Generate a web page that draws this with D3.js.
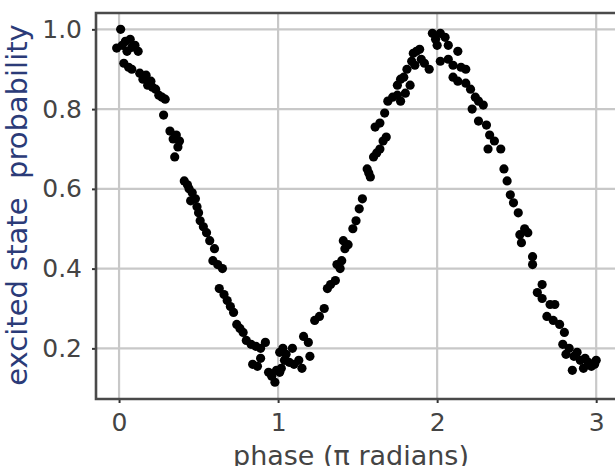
<!DOCTYPE html>
<html>
<head>
<meta charset="utf-8">
<script src="https://cdn.jsdelivr.net/npm/d3@7"></script>
<style>
  html, body { margin: 0; padding: 0; background: #fff; overflow: hidden; }
  svg { display: block; }
</style>
</head>
<body>
<svg id="chart" width="615" height="466"></svg>
<script>
// Measured excited-state probability versus phase (in units of pi)
const phase = [
  -0.015, 0.01, 0.02, 0.04, 0.05, 0.07, 0.08, 0.10, 0.12, 0.03, 0.06, 0.08, 0.13, 0.15, 0.17, 0.18,
  0.20, 0.21, 0.23, 0.25, 0.27, 0.29, 0.28, 0.32, 0.34, 0.36, 0.38, 0.37, 0.35, 0.41, 0.43, 0.44,
  0.46, 0.45, 0.48, 0.49,
  0.50, 0.51, 0.53, 0.55, 0.57, 0.60, 0.59, 0.62, 0.65, 0.63, 0.66, 0.68, 0.70, 0.72, 0.74, 0.76,
  0.78, 0.80, 0.83, 0.86, 0.89, 0.92, 0.84, 0.87, 0.89, 0.94, 0.96, 0.98, 0.99,
  1.01, 1.03, 1.05, 1.09, 1.02, 1.04, 1.07, 1.10, 1.13, 1.15, 1.01, 1.20, 1.16, 1.19, 1.23, 1.26,
  1.29, 1.31, 1.33, 1.36, 1.37, 1.39, 1.40, 1.42, 1.44, 1.41, 1.47, 1.49, 1.51, 1.53,
  1.56, 1.57, 1.58, 1.60, 1.62, 1.64, 1.66, 1.68, 1.61, 1.64, 1.67, 1.69, 1.72, 1.75, 1.77, 1.75,
  1.77, 1.79, 1.83, 1.80, 1.81, 1.84, 1.85, 1.87, 1.89, 1.86, 1.90, 1.92, 1.95, 1.97, 1.99, 2.00,
  2.02, 2.05,
  2.07, 2.02, 2.07, 2.10, 2.13, 2.15, 2.18, 2.10, 2.13, 2.18, 2.21, 2.24, 2.26, 2.29, 2.22, 2.26,
  2.31, 2.33, 2.36, 2.40, 2.32, 2.42, 2.44, 2.46, 2.48, 2.51,
  2.55, 2.57, 2.53, 2.52, 2.60, 2.60, 2.66, 2.63, 2.66, 2.71, 2.74, 2.69, 2.73, 2.77, 2.80, 2.79,
  2.83, 2.81, 2.86, 2.85, 2.90, 2.93, 2.95, 2.97, 2.99, 2.92, 3.00, 2.88
];
const probability = [
  0.953, 1.000, 0.960, 0.970, 0.945, 0.975, 0.955, 0.960, 0.945, 0.915, 0.905, 0.900, 0.890, 0.875, 0.885, 0.860,
  0.870, 0.855, 0.850, 0.835, 0.830, 0.825, 0.785, 0.745, 0.725, 0.735, 0.720, 0.705, 0.680, 0.620, 0.610, 0.600,
  0.590, 0.570, 0.575, 0.555,
  0.540, 0.520, 0.505, 0.490, 0.470, 0.450, 0.420, 0.410, 0.400, 0.350, 0.335, 0.320, 0.305, 0.290, 0.260, 0.250,
  0.240, 0.220, 0.210, 0.205, 0.200, 0.215, 0.160, 0.155, 0.175, 0.140, 0.130, 0.115, 0.145,
  0.190, 0.200, 0.185, 0.200, 0.150, 0.170, 0.165, 0.160, 0.170, 0.150, 0.140, 0.180, 0.230, 0.215, 0.270, 0.280,
  0.300, 0.350, 0.360, 0.370, 0.410, 0.400, 0.420, 0.450, 0.460, 0.470, 0.500, 0.520, 0.550, 0.575,
  0.650, 0.640, 0.630, 0.680, 0.690, 0.700, 0.720, 0.730, 0.755, 0.765, 0.790, 0.820, 0.830, 0.835, 0.820, 0.860,
  0.875, 0.880, 0.860, 0.840, 0.900, 0.920, 0.940, 0.945, 0.950, 0.910, 0.925, 0.915, 0.900, 0.990, 0.975, 0.960,
  0.990, 0.980,
  0.960, 0.920, 0.925, 0.910, 0.945, 0.905, 0.900, 0.880, 0.870, 0.865, 0.850, 0.830, 0.820, 0.810, 0.800, 0.770,
  0.760, 0.735, 0.720, 0.700, 0.700, 0.650, 0.620, 0.585, 0.565, 0.540,
  0.500, 0.490, 0.465, 0.485, 0.430, 0.410, 0.360, 0.340, 0.325, 0.310, 0.310, 0.280, 0.270, 0.260, 0.240, 0.210,
  0.200, 0.185, 0.180, 0.145, 0.170, 0.175, 0.165, 0.155, 0.160, 0.150, 0.170, 0.190
];
const xTicks = [0, 1, 2, 3];
const yTicks = [0.2, 0.4, 0.6, 0.8, 1.0];
const xTitle = "phase (\u03c0 radians)";
const yTitle = "excited state  probability";

const points = phase.map((p, i) => ({ phase: p, prob: probability[i] }));

const svg = d3.select("#chart");
const plotLeft = 96, plotTop = 13, plotBottom = 399, plotRight = 628;

const x = d3.scaleLinear().domain([-0.145, 3.2]).range([plotLeft, plotRight]);
const y = d3.scaleLinear().domain([0.073, 1.041]).range([plotBottom, plotTop]);

const fontFamily = "'DejaVu Sans', Verdana, sans-serif";

// Grid
const grid = svg.append("g");
grid.selectAll("line.gx").data(xTicks).join("line")
  .attr("class", "gx")
  .attr("x1", d => x(d)).attr("x2", d => x(d))
  .attr("y1", plotTop).attr("y2", plotBottom)
  .attr("stroke", "#c8c8c8").attr("stroke-width", 2.2);
grid.selectAll("line.gy").data(yTicks).join("line")
  .attr("class", "gy")
  .attr("x1", plotLeft).attr("x2", plotRight)
  .attr("y1", d => y(d)).attr("y2", d => y(d))
  .attr("stroke", "#c8c8c8").attr("stroke-width", 2.2);

// Data points
svg.append("g").selectAll("circle").data(points).join("circle")
  .attr("cx", d => x(d.phase))
  .attr("cy", d => y(d.prob))
  .attr("r", 4.6)
  .attr("fill", "#000");

// Axes
const xAxis = d3.axisBottom(x).tickValues(xTicks).tickFormat(d3.format("d"))
  .tickSize(4).tickPadding(10);
const yAxis = d3.axisLeft(y).tickValues(yTicks).tickFormat(d3.format(".1f"))
  .tickSize(4).tickPadding(10);

const gx = svg.append("g").attr("transform", `translate(0,${plotBottom})`).call(xAxis);
const gy = svg.append("g").attr("transform", `translate(${plotLeft},0)`).call(yAxis);

[gx, gy].forEach(g => {
  g.select(".domain").remove();
  g.selectAll(".tick line").attr("stroke", "#333").attr("stroke-width", 2);
  g.selectAll(".tick text")
    .attr("fill", "#444")
    .style("font-family", fontFamily)
    .style("font-size", "25px");
});

// Frame (left, top, bottom spines)
svg.append("path")
  .attr("d", `M${plotRight},${plotTop}H${plotLeft}V${plotBottom}H${plotRight}`)
  .attr("fill", "none")
  .attr("stroke", "#4a4a4a")
  .attr("stroke-width", 2.6);

// Axis titles
svg.append("text")
  .attr("x", 351).attr("y", 465)
  .attr("text-anchor", "middle")
  .attr("fill", "#444")
  .style("font-family", fontFamily)
  .style("font-size", "27px")
  .text(xTitle);

svg.append("text")
  .attr("transform", "translate(27,205) rotate(-90)")
  .attr("text-anchor", "middle")
  .attr("fill", "#2b3b78")
  .style("font-family", fontFamily)
  .style("font-size", "29px")
  .style("white-space", "pre")
  .text(yTitle);
</script>
</body>
</html>
